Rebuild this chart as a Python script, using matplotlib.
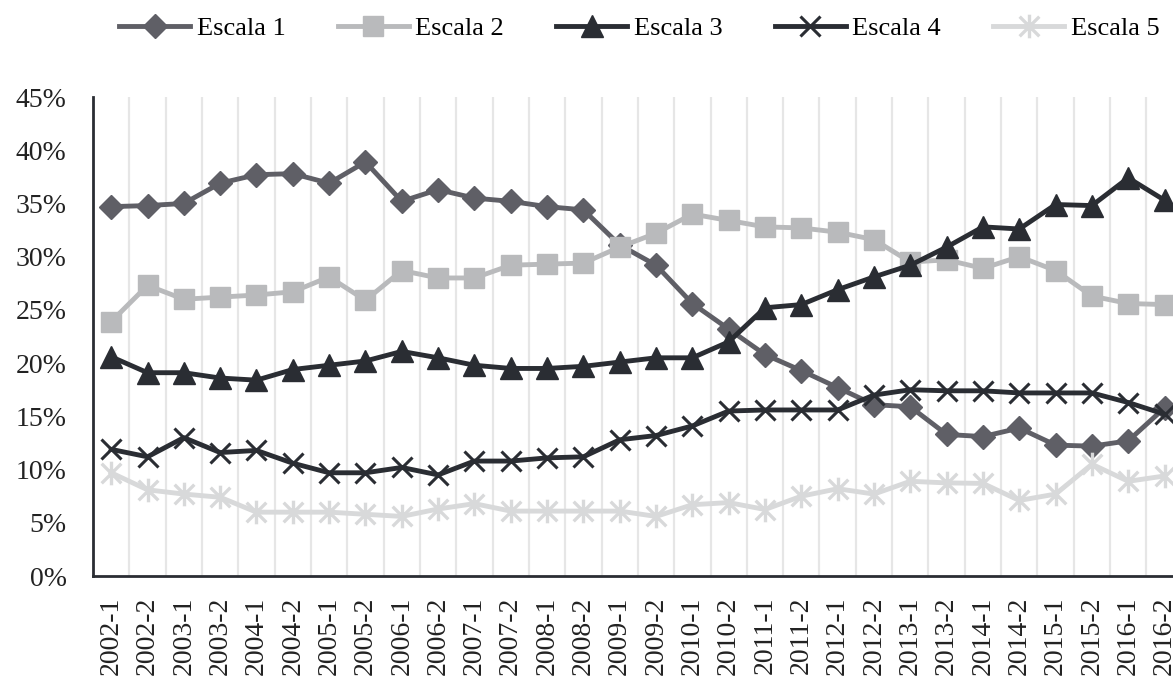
import matplotlib
matplotlib.use('Agg')
from matplotlib import pyplot as plt
from matplotlib.path import Path
from matplotlib.ticker import FixedLocator, PercentFormatter

periods = ['2002-1', '2002-2', '2003-1', '2003-2', '2004-1', '2004-2', '2005-1', '2005-2',
           '2006-1', '2006-2', '2007-1', '2007-2', '2008-1', '2008-2', '2009-1', '2009-2',
           '2010-1', '2010-2', '2011-1', '2011-2', '2012-1', '2012-2', '2013-1', '2013-2',
           '2014-1', '2014-2', '2015-1', '2015-2', '2016-1', '2016-2']

escala1 = [34.7, 34.8, 35.0, 36.9, 37.7, 37.8, 36.9, 38.9, 35.2, 36.3, 35.5, 35.2, 34.7, 34.4,
           31.1, 29.2, 25.6, 23.2, 20.8, 19.3, 17.7, 16.1, 15.9, 13.3, 13.1, 13.9, 12.3, 12.2,
           12.7, 15.8]
escala2 = [23.9, 27.3, 26.0, 26.2, 26.4, 26.7, 28.1, 25.9, 28.7, 28.0, 28.0, 29.2, 29.3, 29.4,
           30.9, 32.2, 34.0, 33.4, 32.8, 32.7, 32.3, 31.6, 29.5, 29.7, 28.9, 30.0, 28.7, 26.3,
           25.6, 25.5]
escala3 = [20.6, 19.1, 19.1, 18.6, 18.4, 19.4, 19.8, 20.2, 21.1, 20.5, 19.8, 19.5, 19.5, 19.7,
           20.1, 20.5, 20.5, 22.0, 25.2, 25.5, 26.9, 28.1, 29.2, 30.9, 32.8, 32.6, 34.9, 34.8,
           37.4, 35.3]
escala4 = [11.9, 11.2, 13.0, 11.6, 11.8, 10.6, 9.7, 9.7, 10.2, 9.5, 10.8, 10.8, 11.1, 11.2,
           12.8, 13.2, 14.1, 15.5, 15.6, 15.6, 15.6, 17.0, 17.5, 17.4, 17.4, 17.2, 17.2, 17.2,
           16.3, 15.2]
escala5 = [9.7, 8.1, 7.7, 7.4, 6.0, 6.0, 6.0, 5.8, 5.6, 6.3, 6.8, 6.1, 6.1, 6.1,
           6.1, 5.6, 6.7, 6.9, 6.25, 7.5, 8.2, 7.7, 8.9, 8.75, 8.7, 7.1, 7.7, 10.5,
           8.9, 9.4]

plt.rcParams['font.family'] = ['Liberation Serif', 'DejaVu Serif']

# excel-like star: an x with a vertical stroke
star = Path([(-0.5, -0.5), (0.5, 0.5), (-0.5, 0.5), (0.5, -0.5), (0, -0.6), (0, 0.6)],
            [Path.MOVETO, Path.LINETO, Path.MOVETO, Path.LINETO, Path.MOVETO, Path.LINETO])

dark = '#2a2d33'
x = list(range(len(periods)))

fig = plt.figure(figsize=(11.73, 6.86), dpi=100)
ax = fig.add_axes([0.0793, 0.1603, 0.929, 0.6983])

ax.plot(x, escala1, color='#5f5f66', lw=3.5, marker='D', ms=12, label='Escala 1')
ax.plot(x, escala2, color='#b9babc', lw=3.5, marker='s', ms=15, label='Escala 2')
ax.plot(x, escala3, color=dark, lw=3.5, marker='^', ms=16, label='Escala 3')
ax.plot(x, escala4, color=dark, lw=3.5, marker='x', ms=14, mew=2.2, label='Escala 4')
ax.plot(x, escala5, color='#d8d9da', lw=3.5, marker=star, ms=17, mew=2.4, mfc='none',
        label='Escala 5')

ax.set_xlim(-0.5, 29.5)
ax.set_ylim(0, 45)
ax.set_yticks(range(0, 46, 5))
ax.yaxis.set_major_formatter(PercentFormatter(decimals=0))
ax.set_xticks(x)
ax.set_xticklabels(periods, rotation=90)
ax.xaxis.set_minor_locator(FixedLocator([i + 0.5 for i in range(29)]))
ax.grid(which='minor', axis='x', color='#e6e6e6', lw=1.6)
ax.set_axisbelow(True)
ax.tick_params(which='both', length=0)
ax.tick_params(axis='y', labelsize=20, pad=19, colors='#222222')
ax.tick_params(axis='x', labelsize=20, pad=15, colors='#222222')

for s in ['top', 'right']:
    ax.spines[s].set_visible(False)
for s in ['left', 'bottom']:
    ax.spines[s].set_color(dark)
    ax.spines[s].set_linewidth(2)

fig.legend(loc='center', bbox_to_anchor=(0.545, 0.959), ncol=5, frameon=False,
           fontsize=19, handlelength=2.7, handletextpad=0.25, columnspacing=1.97,
           numpoints=1)

plt.savefig('out.png', dpi=100)
